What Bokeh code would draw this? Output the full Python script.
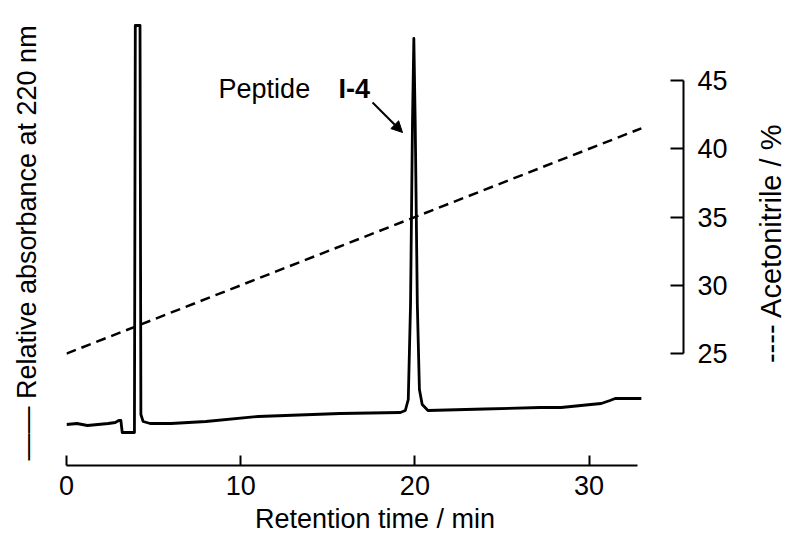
from bokeh.plotting import figure
from bokeh.layouts import row
from bokeh.models import Range1d, LinearAxis, FixedTicker, Label, Arrow, NormalHead
from bokeh.embed import file_html
from bokeh.resources import INLINE

# Chromatogram trace (retention time in min, relative absorbance, arbitrary units)
time_min = [0.0, 0.6, 1.2, 1.8, 2.4, 2.8, 3.0, 3.12, 3.2, 3.5, 3.9,
            3.95, 4.22, 4.27, 4.4, 4.8, 6.0, 8.0, 11.0, 15.7,
            19.17, 19.45, 19.62, 19.75, 19.86, 19.94, 20.02, 20.14, 20.26, 20.42, 20.75,
            24.0, 27.2, 28.4, 30.1, 30.7, 31.2, 31.5, 33.0]
absorbance = [0.00, 0.01, -0.01, 0.00, 0.01, 0.02, 0.04, 0.04, -0.08, -0.08, -0.08,
              3.99, 3.99, 0.10, 0.03, 0.01, 0.01, 0.03, 0.08, 0.11,
              0.12, 0.14, 0.25, 1.20, 3.00, 3.86, 3.00, 1.20, 0.35, 0.20, 0.14,
              0.155, 0.17, 0.17, 0.20, 0.21, 0.24, 0.26, 0.26]

# Acetonitrile gradient
gradient_time = [0.0, 33.0]
acetonitrile = [25.0, 41.5]

x_ticks = [0, 10, 20, 30]
acn_ticks = [25, 30, 35, 40, 45]

FONT = "Liberation Sans"

p = figure(width=742, height=547, output_backend="svg", toolbar_location=None,
           x_range=Range1d(0, 35.42), y_range=Range1d(-0.41, 4.04),
           y_axis_location=None,
           min_border_left=66, min_border_right=59, min_border_top=20, min_border_bottom=82)
p.extra_y_ranges = {"acn": Range1d(16.8, 49.4)}
p.outline_line_color = None
p.grid.visible = False
p.background_fill_color = "white"

xa = p.xaxis[0]
xa.ticker = FixedTicker(ticks=x_ticks)
xa.bounds = (0, 32.8)
xa.major_tick_in = 10
xa.major_tick_out = 0
xa.minor_tick_line_color = None
xa.axis_line_width = 2
xa.major_tick_line_width = 2
xa.axis_line_color = "black"
xa.major_tick_line_color = "black"
xa.major_label_text_font = FONT
xa.major_label_text_font_size = "27px"
xa.major_label_text_color = "black"
xa.major_label_standoff = 10
xa.axis_label = "Retention time / min"
xa.axis_label_text_font = FONT
xa.axis_label_text_font_size = "27px"
xa.axis_label_text_font_style = "normal"
xa.axis_label_text_color = "black"
xa.axis_label_standoff = 6

# left: only the axis title
la = LinearAxis(ticker=FixedTicker(ticks=[]))
la.axis_line_color = None
la.major_tick_line_color = None
la.minor_tick_line_color = None
la.axis_label = "\u2014\u2014 Relative absorbance at 220 nm"
la.axis_label_text_font = FONT
la.axis_label_text_font_size = "27px"
la.axis_label_text_font_style = "normal"
la.axis_label_text_color = "black"
la.axis_label_standoff = 25
p.add_layout(la, "left")

ra = LinearAxis(y_range_name="acn", ticker=FixedTicker(ticks=acn_ticks), bounds=(25, 45))
ra.major_tick_in = 13
ra.major_tick_out = 0
ra.minor_tick_line_color = None
ra.axis_line_width = 2
ra.major_tick_line_width = 2
ra.major_label_text_font = FONT
ra.major_label_text_font_size = "27px"
ra.major_label_text_color = "black"
ra.major_label_standoff = 14
p.add_layout(ra, "right")

p.line(time_min, absorbance, line_width=2.8, color="black", line_join="round")
p.line(gradient_time, acetonitrile, y_range_name="acn", line_width=2.5,
       color="black", line_dash="10 6")

# Peak annotation
p.add_layout(Label(x=8.73, y=3.36, text="Peptide", text_font=FONT, text_font_size="27px",
                   text_align="left", text_baseline="middle", text_color="black"))
p.add_layout(Label(x=15.61, y=3.36, text="I-4", text_font=FONT, text_font_size="27px",
                   text_font_style="bold", text_align="left", text_baseline="middle",
                   text_color="black"))
p.add_layout(Arrow(x_start=17.57, y_start=3.22, x_end=19.29, y_end=2.92,
                   line_width=2, line_color="black",
                   end=NormalHead(size=11, fill_color="black", line_color="black")))

# narrow companion panel carrying the right-hand title (reads bottom-to-top)
p2 = figure(width=45, height=547, output_backend="svg", toolbar_location=None,
            x_range=Range1d(0, 1), y_range=Range1d(0, 1),
            x_axis_location=None,
            min_border_left=44, min_border_right=0, min_border_top=20, min_border_bottom=82)
p2.outline_line_color = None
p2.grid.visible = False
ya2 = p2.yaxis[0]
ya2.ticker = FixedTicker(ticks=[])
ya2.axis_line_color = None
ya2.major_tick_line_color = None
ya2.minor_tick_line_color = None
ya2.axis_label = "---- Acetonitrile / %"
ya2.axis_label_text_font = FONT
ya2.axis_label_text_font_size = "29px"
ya2.axis_label_text_font_style = "normal"
ya2.axis_label_text_color = "black"
ya2.axis_label_standoff = 0

layout = row(p, p2, spacing=0)
open("out.html", "w").write(file_html(layout, INLINE))
